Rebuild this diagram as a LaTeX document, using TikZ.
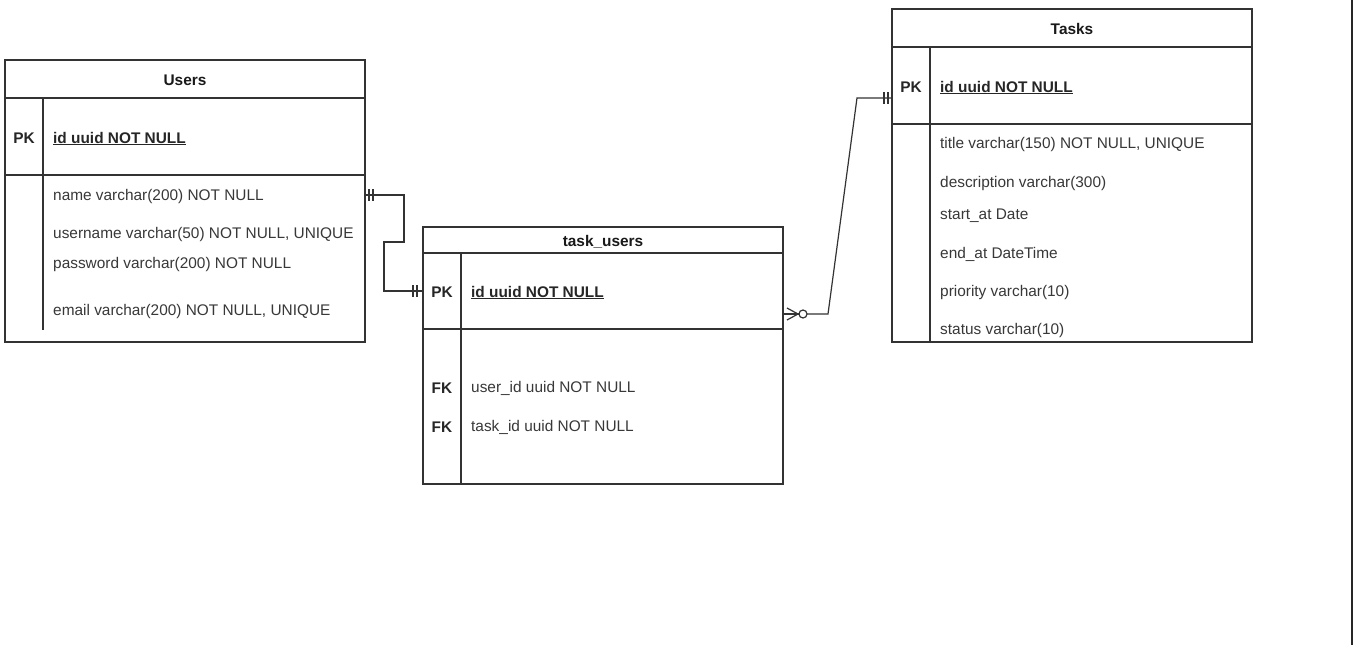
\documentclass[tikz,border=0pt]{standalone}
\usepackage{fontspec}
\setmainfont{Liberation Sans}
\begin{document}
\begin{tikzpicture}[x=1pt,y=-1pt,
  box/.style={draw=black!80, line width=1.2pt, inner sep=0pt, outer sep=0pt, anchor=north west},
  sep/.style={draw=black!80, line width=1.2pt},
  conn/.style={draw=black!80, line width=1.2pt},
  ttl/.style={font=\bfseries\fontsize{15.4}{18}\selectfont, text=black!90, inner sep=0pt, yshift=-1.5pt},
  key/.style={font=\bfseries\fontsize{15.4}{18}\selectfont, text=black!85, inner sep=0pt, yshift=-1.5pt},
  pkf/.style={font=\bfseries\fontsize{15.4}{18}\selectfont, text=black!85, inner sep=0pt, anchor=west, yshift=-1.5pt},
  fld/.style={font=\fontsize{15.4}{18}\selectfont, text=black!78, inner sep=0pt, anchor=west, yshift=-1.5pt}]
\useasboundingbox (0,0) rectangle (1353,645);
\fill[white] (0,0) rectangle (1353,645);
\fill[black!85] (1351,0) rectangle (1353,645);

% ---------- Users ----------
\node[box, minimum width=360pt, minimum height=282pt] (users) at (5,60) {};
\draw[sep] (5,98) -- (365,98);
\draw[sep] (5,175) -- (365,175);
\draw[sep] (43,98) -- (43,330);
\node[ttl] (usersT) at (185,79) {Users};
\node[key] (usersPK) at (24,137) {PK};
\node[pkf] (usersId) at (53,137) {\underline{id uuid NOT NULL}};
\node[fld] (uName) at (53,195) {name varchar(200) NOT NULL};
\node[fld] (uUser) at (53,233) {username varchar(50) NOT NULL, UNIQUE};
\node[fld] (uPass) at (53,263) {password varchar(200) NOT NULL};
\node[fld] (uMail) at (53,310) {email varchar(200) NOT NULL, UNIQUE};

% ---------- task_users ----------
\node[box, minimum width=360pt, minimum height=257pt] (tu) at (423,227) {};
\draw[sep] (423,253) -- (783,253);
\draw[sep] (423,329) -- (783,329);
\draw[sep] (461,253) -- (461,484);
\node[ttl] (tuT) at (603,240) {task\_users};
\node[key] (tuPK) at (442,291) {PK};
\node[pkf] (tuId) at (471,291) {\underline{id uuid NOT NULL}};
\node[key] (tuFK1) at (442,387) {FK};
\node[fld] (tuUser) at (471,387) {user\_id uuid NOT NULL};
\node[key] (tuFK2) at (442,426) {FK};
\node[fld] (tuTask) at (471,426) {task\_id uuid NOT NULL};

% ---------- Tasks ----------
\node[box, minimum width=360pt, minimum height=333pt] (tasks) at (892,9) {};
\draw[sep] (892,47) -- (1252,47);
\draw[sep] (892,124) -- (1252,124);
\draw[sep] (930,47) -- (930,342);
\node[ttl] (tasksT) at (1072,27) {Tasks};
\node[key] (tasksPK) at (911,86) {PK};
\node[pkf] (tasksId) at (940,86) {\underline{id uuid NOT NULL}};
\node[fld] (tTitle) at (940,143) {title varchar(150) NOT NULL, UNIQUE};
\node[fld] (tDesc) at (940,182) {description varchar(300)};
\node[fld] (tStart) at (940,214) {start\_at Date};
\node[fld] (tEnd) at (940,253) {end\_at DateTime};
\node[fld] (tPrio) at (940,291) {priority varchar(10)};
\node[fld] (tStat) at (940,329) {status varchar(10)};

% ---------- connectors ----------
\coordinate (uOut) at (365,195);
\coordinate (tuIn) at (423,291);
\coordinate (tuOut) at (783,314);
\coordinate (tIn) at (892,98);

\draw[conn] (uOut) -- (404,195) -- (404,242) -- (384,242) -- (384,291) -- (tuIn);
\draw[conn] (369,189) -- (369,201) (373,189) -- (373,201);
\draw[conn] (413,285) -- (413,297) (417,285) -- (417,297);

\draw[conn] (tuOut) -- (799,314);
\draw[conn] (787,308) -- (798,314) -- (787,320);
\draw[conn] (803,314) circle (4);
\draw[conn] (807,314) -- (828,314) -- (857,98) -- (tIn);
\draw[conn] (884,92) -- (884,104) (888,92) -- (888,104);
\end{tikzpicture}
\end{document}
